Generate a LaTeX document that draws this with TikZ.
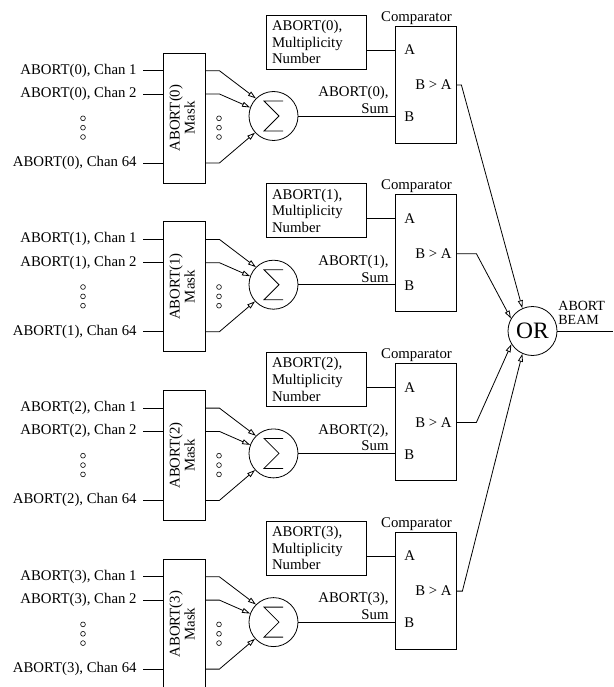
\documentclass[tikz,border=0pt]{standalone}
\usepackage{fontspec}
\setmainfont{Liberation Serif}
\usepackage{graphicx}
\usetikzlibrary{arrows.meta, positioning, calc}

\begin{document}
\begin{tikzpicture}[
  x=1pt, y=-1pt, line width=0.8pt,
  every node/.style={font=\fontsize{14.8}{16.7}\selectfont},
  maskbox/.style={rectangle, draw=black, minimum width=42pt, minimum height=130pt,
    inner sep=0pt, font=\fontsize{14.8}{15}\selectfont},
  sumnode/.style={circle, draw=black, minimum size=49pt, inner sep=0pt},
  cmpbox/.style={rectangle, draw=black, minimum width=61pt, minimum height=117pt, inner sep=0pt},
  multbox/.style={rectangle, draw=black, text width=88pt, minimum height=54pt,
    inner xsep=6pt, inner ysep=2pt, align=left},
  orgate/.style={circle, draw=black, minimum size=49pt, inner sep=0pt,
    font=\fontsize{23.5}{24}\selectfont},
  inlabel/.style={anchor=east, inner sep=0pt},
  port/.style={inner sep=0pt},
  dotmark/.style={line width=0.6pt},
  arrow/.style={-{Triangle[open, length=8pt, width=5pt]}}
]
\useasboundingbox (0,0) rectangle (613,687);

% four abort channels
\foreach \i in {0,...,3} {
  \pgfmathsetmacro\dy{168.7*\i}

  % mask
  \node (mask\i) [maskbox] at (184, 118+\dy)
    {\rotatebox{90}{\begin{tabular}{@{}c@{}}ABORT(\i)\\Mask\end{tabular}}};

  % inputs
  \node (ina\i) [inlabel] at (137, 70.7+\dy) {ABORT(\i), Chan 1};
  \node (inb\i) [inlabel] at (137, 94+\dy) {ABORT(\i), Chan 2};
  \node (inc\i) [inlabel] at (137, 163+\dy) {ABORT(\i), Chan 64};
  \draw ([xshift=6pt]ina\i.east) -- (mask\i.west |- ina\i);
  \draw ([xshift=6pt]inb\i.east) -- (mask\i.west |- inb\i);
  \draw ([xshift=6pt]inc\i.east) -- (mask\i.west |- inc\i);

  % dots
  \foreach \yy in {118.3, 127.7, 137} {
    \draw [dotmark] (83, \yy+\dy) circle[radius=2.4pt];
    \draw [dotmark] (219, \yy+\dy) circle[radius=2.4pt];
  }

  % sum
  \node (sum\i) [sumnode] at (273.5, 116+\dy) {};
  \draw ($(sum\i)+(9.5,-15)$) -- ++(-19,0) -- ++(15,15) -- ++(-15,15) -- ++(19,0);
  \draw [arrow] (mask\i.east |- ina\i) -- ++(14,0) -- (sum\i.135);
  \draw [arrow] (mask\i.east |- inb\i) -- ++(14,0) -- (sum\i.160);
  \draw [arrow] (mask\i.east |- inc\i) -- ++(14,0) -- (sum\i.222);

  % comparator
  \node (cmp\i) [cmpbox] at (425.5, 84.5+\dy) {};
  \node (cmplbl\i) [above=0pt of cmp\i, xshift=-9pt, inner sep=1pt] {Comparator};
  \node (pa\i) [port, anchor=west] at (404, 50+\dy) {A};
  \node (pb\i) [port, anchor=west] at (404, 117+\dy) {B};
  \node (pout\i) [port, anchor=east] at (452, 85+\dy) {B > A};

  % multiplicity number
  \node (mult\i) [multbox] at (316, 42+\dy) {ABORT(\i),\\Multiplicity\\Number};
  \draw (mult\i.east |- pa\i) -- (cmp\i.west |- pa\i);

  % sum to comparator
  \draw (sum\i.east) -- (cmp\i.west |- sum\i);
  \node (sumlbl\i) [anchor=south east, align=right, inner sep=1pt] at (390, 115+\dy)
    {ABORT(\i),\\Sum};
}

% OR gate
\node (or) [orgate] at (532.5, 331) {OR};
\coordinate (beam) at (613, 331);
\draw (or.east) -- (beam);
\node (beamlbl) [anchor=south west, align=left, inner sep=1pt,
  font=\fontsize{14}{14.5}\selectfont] at (557, 326) {ABORT\\BEAM};

% comparators to OR
\foreach \i/\len/\ang in {0/5/114, 1/20/150, 2/20/212, 3/6/246}
  \draw [arrow] (cmp\i.east |- pout\i) -- ++(\len,0) -- (or.\ang);

\end{tikzpicture}
\end{document}
